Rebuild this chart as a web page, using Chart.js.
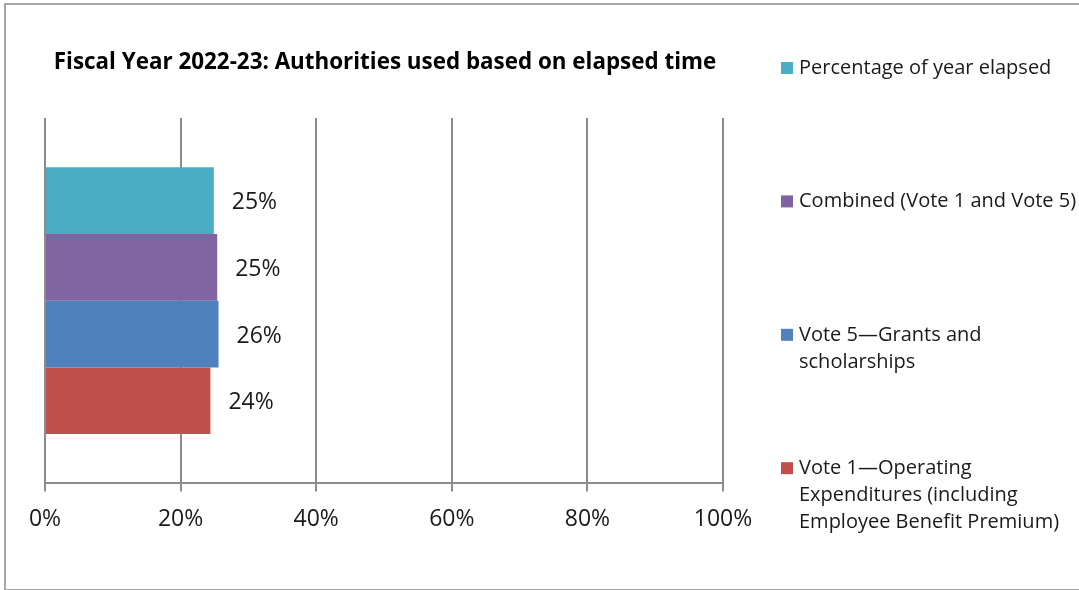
<!DOCTYPE html>
<html lang="en">
<head>
    <meta charset="UTF-8">
    <title>Fiscal Year 2022-23: Authorities used based on elapsed time</title>
    <script src="https://cdn.jsdelivr.net/npm/chart.js"></script>
    <style>
        html, body { margin: 0; padding: 0; background: #fff; overflow: hidden; }
        .frame {
            position: absolute; left: 4px; top: 3px;
            width: 1100px; height: 584px;
            border: 2px solid #a6a6a6;
        }
        #chart { position: absolute; left: 0; top: 0; }
    </style>
</head>
<body>
    <div class="frame"></div>
    <canvas id="chart" width="1079" height="590"></canvas>

    <script>
        // Chart data
        const chartTitle = 'Fiscal Year 2022-23: Authorities used based on elapsed time';
        const categories = [''];
        const seriesNames = [
            'Percentage of year elapsed',
            'Combined (Vote 1 and Vote 5)',
            'Vote 5\u2014Grants and scholarships',
            'Vote 1\u2014Operating Expenditures (including Employee Benefit Premium)'
        ];
        // legend text as it wraps in the picture
        const legendLines = [
            ['Percentage of year elapsed'],
            ['Combined (Vote 1 and Vote 5)'],
            ['Vote 5\u2014Grants and', 'scholarships'],
            ['Vote 1\u2014Operating', 'Expenditures (including', 'Employee Benefit Premium)']
        ];
        const seriesValues = [24.9, 25.4, 25.6, 24.4];
        const seriesColors = ['#4BACC6', '#8064A2', '#4F81BD', '#C0504D'];
        const tickValues = [0, 20, 40, 60, 80, 100];
        const tickLabels = ['0%', '20%', '40%', '60%', '80%', '100%'];

        const FONT = '"Open Sans", Lato, sans-serif';
        const gridGrey = '#8c8c8c';

        // value labels to the right of each bar
        const barLabels = {
            id: 'barLabels',
            afterDatasetsDraw(chart) {
                const ctx = chart.ctx;
                ctx.save();
                ctx.font = '23px ' + FONT;
                ctx.fillStyle = '#1a1a1a';
                ctx.textAlign = 'left';
                ctx.textBaseline = 'middle';
                chart.data.datasets.forEach((ds, i) => {
                    chart.getDatasetMeta(i).data.forEach((bar, j) => {
                        ctx.fillText(Math.round(ds.data[j]) + '%', bar.x + 18, bar.y + 2);
                    });
                });
                ctx.restore();
            }
        };

        // title and the spread-out legend on the right
        const titleAndLegend = {
            id: 'titleAndLegend',
            afterDraw(chart) {
                const ctx = chart.ctx;
                ctx.save();
                ctx.fillStyle = '#000';
                ctx.font = 'bold 22.4px ' + FONT;
                ctx.textAlign = 'center';
                ctx.textBaseline = 'middle';
                ctx.fillText(chartTitle, 385, 63);

                ctx.font = '20px ' + FONT;
                ctx.textAlign = 'left';
                legendLines.forEach((lines, i) => {
                    const y0 = 68 + i * 133.4;
                    ctx.fillStyle = seriesColors[i];
                    ctx.fillRect(781, y0 - 6, 12, 12);
                    ctx.fillStyle = '#1a1a1a';
                    lines.forEach((t, k) => ctx.fillText(t, 799, y0 + k * 27));
                });
                ctx.restore();
            }
        };

        new Chart(document.getElementById('chart'), {
            type: 'bar',
            data: {
                labels: categories,
                datasets: seriesNames.map((name, i) => ({
                    label: name,
                    data: [seriesValues[i]],
                    backgroundColor: seriesColors[i],
                    borderWidth: 0,
                    categoryPercentage: 0.73,
                    barPercentage: 1
                }))
            },
            options: {
                indexAxis: 'y',
                responsive: false,
                animation: false,
                layout: { padding: { left: 45, right: 356, top: 118, bottom: 43 } },
                plugins: {
                    legend: { display: false },
                    title: { display: false },
                    tooltip: { enabled: false }
                },
                scales: {
                    x: {
                        min: 0,
                        max: 100,
                        afterBuildTicks(axis) {
                            axis.ticks = tickValues.map(v => ({ value: v }));
                        },
                        grid: { color: gridGrey, lineWidth: 2, tickLength: 8 },
                        border: { color: gridGrey, width: 2 },
                        ticks: {
                            padding: 14,
                            color: '#1a1a1a',
                            font: { family: FONT, size: 23 },
                            maxRotation: 0,
                            callback: (v) => tickLabels[tickValues.indexOf(v)]
                        }
                    },
                    y: { display: false }
                }
            },
            plugins: [barLabels, titleAndLegend]
        });
    </script>
</body>
</html>
